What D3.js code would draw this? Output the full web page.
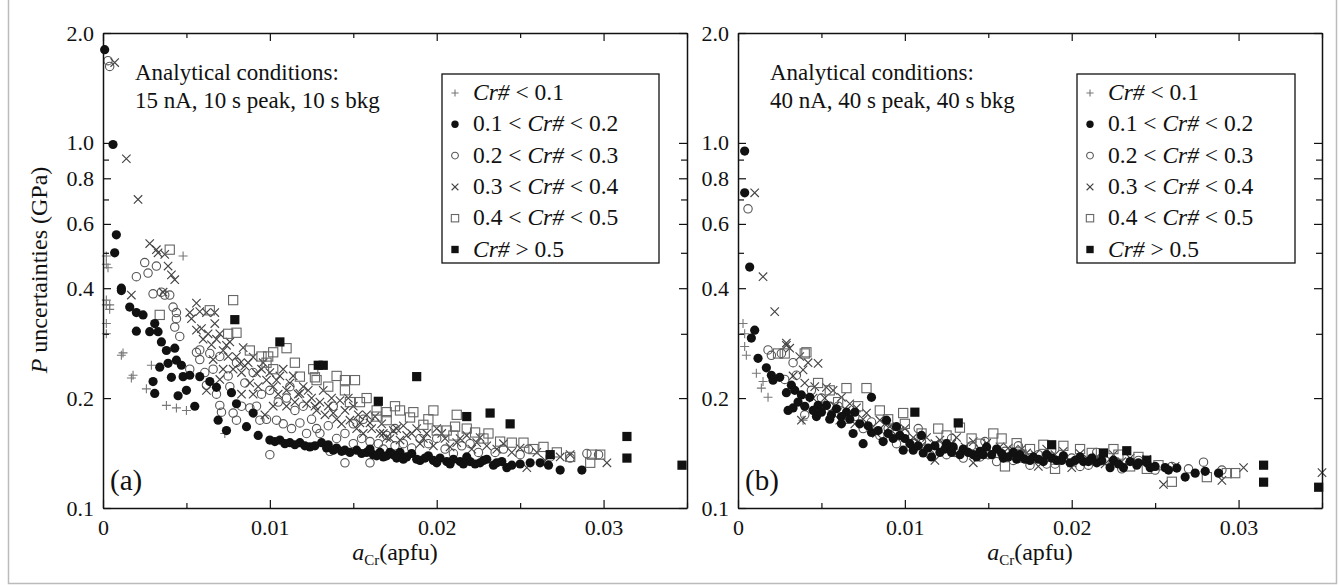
<!DOCTYPE html>
<html>
<head>
<meta charset="utf-8">
<script src="https://cdn.jsdelivr.net/npm/d3@7"></script>
<style>
  html, body { margin: 0; padding: 0; background: #fff; }
  svg { display: block; font-family: "Liberation Serif", "Times New Roman", serif; }
</style>
</head>
<body>
<svg id="chart" width="1340" height="585"></svg>
<script>
"use strict";

/* ── Axis ticks ── */
const xMajorTicks = [0, 0.01, 0.02, 0.03];
const xMinorTicks = [0.005, 0.015, 0.025, 0.035];
const yLabelTicks = [0.1, 0.2, 0.4, 0.6, 0.8, 1.0, 2.0];
const yMinorTicks = [0.3, 0.5, 0.7, 0.9];

/* ── Legend classes (Cr#) ── */
const classKeys   = ["plus", "dot", "ring", "cross", "box", "block"];
const classPrefix = ["", "0.1 < ", "0.2 < ", "0.3 < ", "0.4 < ", ""];
const classSuffix = [" < 0.1", " < 0.2", " < 0.3", " < 0.4", " < 0.5", " > 0.5"];

/* ── Panel (a): [aCr (apfu), P uncertainty (GPa)] ── */
const aPlus = [
  [0.0002,0.49],[0.0002,0.465],[0.0003,0.455],[0.0002,0.371],[0.0002,0.36],[0.0004,0.36],
  [0.0004,0.35],[0.0002,0.32],[0.0002,0.30],[0.0012,0.266],[0.0011,0.262],[0.0018,0.231],
  [0.0017,0.227],[0.0026,0.212],[0.0029,0.246],[0.0038,0.191],[0.0044,0.188],[0.0050,0.185],
  [0.0074,0.163],[0.0073,0.160],[0.0048,0.49]
];
const aDot = [
  [0.0001,1.80],[0.0006,0.99],[0.0008,0.56],[0.0007,0.50],[0.0011,0.40],[0.0011,0.394],
  [0.0016,0.355],[0.0020,0.343],[0.0024,0.338],[0.0031,0.32],[0.0020,0.305],[0.0028,0.304],
  [0.0033,0.304],[0.0035,0.285],[0.0038,0.27],[0.0043,0.274],[0.0044,0.254],[0.0039,0.249],
  [0.0034,0.243],[0.0041,0.228],[0.0047,0.246],[0.0048,0.229],[0.0052,0.231],[0.0058,0.229],
  [0.0030,0.222],[0.0031,0.206],[0.0045,0.203],[0.0064,0.222],[0.0068,0.214],[0.0077,0.207],
  [0.0069,0.174],[0.0074,0.163],[0.0080,0.193],[0.0086,0.167],[0.0090,0.182],[0.0100,0.1535],
  [0.0106,0.1535],[0.0112,0.151],[0.0118,0.151],[0.0124,0.147],[0.0131,0.151],[0.0145,0.144],
  [0.0152,0.144],[0.0158,0.142],[0.0166,0.142],[0.0172,0.142],[0.0178,0.142],[0.0174,0.140],
  [0.0182,0.138],[0.0190,0.135],[0.0198,0.135],[0.0206,0.134],[0.0214,0.134],[0.0220,0.134],
  [0.0226,0.133],[0.0234,0.131],[0.0239,0.134],[0.0245,0.131],[0.0256,0.133],[0.0262,0.133],
  [0.0267,0.131],[0.0274,0.127],[0.0287,0.127],[0.0140,0.146],[0.0162,0.140],[0.0168,0.138],
  [0.0185,0.141],[0.0195,0.139],[0.0202,0.137],[0.0210,0.136],[0.0218,0.138],[0.0230,0.136],
  [0.0160,0.145],[0.0135,0.149],[0.0093,0.158],[0.0050,0.210],[0.0055,0.190],
  [0.0103,0.152],[0.0109,0.150],[0.0115,0.149],[0.0121,0.148],[0.0127,0.148],[0.0134,0.146],
  [0.0138,0.144],[0.0143,0.143],[0.0148,0.142],[0.0155,0.141],[0.0164,0.139],[0.0170,0.139],
  [0.0176,0.137],[0.0180,0.136],[0.0188,0.136],[0.0193,0.137],[0.0200,0.133],[0.0208,0.132],
  [0.0216,0.132],[0.0223,0.132],[0.0228,0.135],[0.0236,0.133],[0.0242,0.129],[0.0250,0.132]
];
const aRing = [
  [0.0003,1.68],[0.0004,1.62],[0.0025,0.47],[0.0027,0.44],[0.0020,0.43],[0.0032,0.46],
  [0.0030,0.386],[0.0035,0.39],[0.0040,0.383],[0.0042,0.355],[0.0044,0.343],[0.0037,0.383],
  [0.0044,0.33],[0.0043,0.313],[0.0046,0.295],[0.0056,0.267],[0.0058,0.271],[0.0064,0.265],
  [0.0062,0.217],[0.0070,0.191],[0.0071,0.183],[0.0078,0.182],[0.0080,0.174],[0.0088,0.188],
  [0.0094,0.174],[0.0104,0.174],[0.0136,0.143],[0.0160,0.133],[0.0118,0.171],[0.0066,0.24],
  [0.0075,0.23],[0.0085,0.22],[0.0095,0.205],[0.0105,0.195],[0.0115,0.185],[0.0125,0.175],
  [0.0135,0.168],[0.0145,0.16],[0.0155,0.155],[0.0165,0.15],[0.0175,0.148],[0.0185,0.146],
  [0.0195,0.15],[0.0205,0.145],[0.0215,0.148],[0.0225,0.142],[0.0240,0.145],[0.0250,0.14],
  [0.0268,0.138],[0.0280,0.137],[0.0290,0.141],[0.0297,0.14],[0.0058,0.255],[0.0070,0.26],
  [0.0080,0.25],[0.0090,0.235],[0.0100,0.21],[0.0110,0.2],[0.0120,0.19],[0.0130,0.16],
  [0.0150,0.17],[0.0170,0.158],[0.0190,0.155],[0.0145,0.133],[0.0100,0.14],
  [0.0052,0.24],[0.0061,0.235],[0.0068,0.205],[0.0076,0.215],[0.0083,0.19],[0.0092,0.19],
  [0.0098,0.175],[0.0108,0.17],[0.0113,0.165],[0.0122,0.16],[0.0128,0.165],[0.0140,0.155],
  [0.0150,0.15],[0.0160,0.152],[0.0168,0.145],[0.0180,0.15],[0.0200,0.155],[0.0210,0.141],
  [0.0220,0.15],[0.0235,0.142],[0.0255,0.145],[0.0112,0.215],[0.0138,0.19],[0.0156,0.175],
  [0.0175,0.165]
];
const aCross = [
  [0.0007,1.66],[0.0014,0.905],[0.0021,0.70],[0.0028,0.53],[0.0032,0.51],[0.0033,0.50],
  [0.0037,0.495],[0.0039,0.46],[0.0041,0.435],[0.0043,0.422],[0.0036,0.39],[0.0017,0.383],
  [0.0056,0.364],[0.0058,0.345],[0.0052,0.343],[0.0067,0.343],[0.0062,0.343],[0.0067,0.32],
  [0.0056,0.307],[0.0074,0.279],[0.0084,0.275],[0.0082,0.249],[0.0090,0.259],[0.0092,0.234],
  [0.0098,0.224],[0.0104,0.224],[0.0110,0.21],[0.0118,0.206],[0.0122,0.193],[0.0128,0.185],
  [0.0138,0.182],[0.0142,0.197],[0.0148,0.174],[0.0154,0.171],[0.0160,0.171],[0.0168,0.16],
  [0.0174,0.163],[0.0062,0.21],[0.0166,0.16],[0.0170,0.156],[0.0178,0.1535],[0.0194,0.16],
  [0.0212,0.151],[0.0224,0.151],[0.0254,0.129],[0.0260,0.142],[0.0274,0.138],[0.0302,0.133],
  [0.0060,0.29],[0.0065,0.28],[0.0070,0.30],[0.0075,0.26],[0.0078,0.24],[0.0085,0.245],
  [0.0088,0.22],[0.0095,0.24],[0.0100,0.235],[0.0105,0.205],[0.0108,0.24],[0.0112,0.22],
  [0.0115,0.195],[0.0120,0.215],[0.0125,0.20],[0.0130,0.195],[0.0132,0.21],[0.0135,0.19],
  [0.0140,0.175],[0.0145,0.185],[0.0150,0.19],[0.0152,0.165],[0.0158,0.18],[0.0163,0.178],
  [0.0180,0.168],[0.0185,0.16],[0.0190,0.15],[0.0200,0.165],[0.0205,0.155],[0.0218,0.158],
  [0.0230,0.148],[0.0240,0.15],[0.0245,0.142],[0.0280,0.14],[0.0070,0.225],[0.0090,0.205],
  [0.0053,0.33],[0.0059,0.31],[0.0063,0.30],[0.0068,0.29],[0.0072,0.27],[0.0076,0.285],
  [0.0080,0.26],[0.0083,0.235],[0.0087,0.25],[0.0093,0.215],[0.0096,0.25],[0.0102,0.215],
  [0.0106,0.23],[0.0110,0.19],[0.0114,0.23],[0.0117,0.205],[0.0123,0.21],[0.0127,0.19],
  [0.0133,0.18],[0.0137,0.20],[0.0143,0.17],[0.0147,0.20],[0.0153,0.18],[0.0156,0.16],
  [0.0161,0.165],[0.0167,0.17],[0.0172,0.155],[0.0176,0.165],[0.0182,0.158],[0.0188,0.165],
  [0.0192,0.155],[0.0198,0.148],[0.0203,0.16],[0.0208,0.147],[0.0214,0.155],[0.0221,0.145],
  [0.0226,0.156],[0.0236,0.145],[0.0250,0.146],[0.0265,0.135],[0.0066,0.255],[0.0072,0.24],
  [0.0083,0.205],[0.0102,0.19],[0.0097,0.18]
];
const aBox = [
  [0.0040,0.51],[0.0078,0.371],[0.0064,0.348],[0.0034,0.338],[0.0075,0.30],[0.0080,0.302],
  [0.0110,0.274],[0.0102,0.267],[0.0099,0.26],[0.0128,0.224],[0.0126,0.24],[0.0098,0.25],
  [0.0118,0.229],[0.0127,0.228],[0.0145,0.224],[0.0151,0.224],[0.0145,0.21],[0.0148,0.195],
  [0.0154,0.195],[0.0164,0.185],[0.0170,0.183],[0.0178,0.185],[0.0186,0.183],[0.0164,0.178],
  [0.0170,0.174],[0.0192,0.169],[0.0212,0.18],[0.0200,0.163],[0.0206,0.163],[0.0210,0.158],
  [0.0184,0.177],[0.0211,0.167],[0.0223,0.161],[0.0231,0.16],[0.0245,0.151],[0.0252,0.151],
  [0.0264,0.147],[0.0280,0.138],[0.0293,0.14],[0.0298,0.14],[0.0292,0.133],[0.0102,0.24],
  [0.0088,0.27],[0.0095,0.26],[0.0115,0.25],[0.0135,0.215],[0.0140,0.23],[0.0158,0.20],
  [0.0175,0.19],[0.0195,0.175],[0.0218,0.165],[0.0228,0.155],[0.0238,0.152],[0.0258,0.145],
  [0.0272,0.142],[0.0198,0.185]
];
const aBlock = [
  [0.0079,0.328],[0.0106,0.285],[0.0129,0.246],[0.0132,0.246],[0.0165,0.196],[0.0188,0.229],
  [0.0218,0.178],[0.0232,0.182],[0.0244,0.170],[0.0268,0.140],[0.0314,0.157],[0.0314,0.137],
  [0.0347,0.131]
];

/* ── Panel (b): [aCr (apfu), P uncertainty (GPa)] ── */
const bPlus = [
  [0.0004,0.30],[0.0004,0.277],[0.0005,0.262],[0.0011,0.234],[0.0015,0.222],[0.0014,0.213],
  [0.0018,0.201],[0.0039,0.174],[0.0003,0.32]
];
const bDot = [
  [0.0004,0.95],[0.0004,0.73],[0.0007,0.457],[0.0010,0.307],[0.0008,0.292],[0.0012,0.257],
  [0.0017,0.242],[0.0020,0.231],[0.0021,0.224],[0.0025,0.228],[0.0032,0.217],[0.0029,0.207],
  [0.0034,0.21],[0.0038,0.204],[0.0043,0.201],[0.0033,0.188],[0.0030,0.185],[0.0047,0.178],
  [0.0048,0.191],[0.0053,0.191],[0.0059,0.187],[0.0065,0.183],[0.0070,0.183],[0.0069,0.16],
  [0.0075,0.15],[0.0080,0.161],[0.0087,0.152],[0.0089,0.174],[0.0095,0.167],[0.0099,0.144],
  [0.0105,0.144],[0.0111,0.1415],[0.0116,0.138],[0.0121,0.142],[0.0129,0.147],[0.0141,0.14],
  [0.0149,0.147],[0.0159,0.137],[0.0169,0.14],[0.0177,0.138],[0.0080,0.201],[0.0175,0.135],
  [0.0183,0.134],[0.0191,0.135],[0.0199,0.133],[0.0207,0.134],[0.0215,0.133],[0.0223,0.129],
  [0.0231,0.129],[0.0239,0.131],[0.0247,0.129],[0.0256,0.129],[0.0263,0.1286],[0.0268,0.1215],
  [0.0274,0.1246],[0.0288,0.1246],[0.0125,0.15],[0.0135,0.145],[0.0145,0.143],[0.0155,0.145],
  [0.0165,0.142],[0.0185,0.14],[0.0195,0.139],[0.0205,0.138],[0.0212,0.137],[0.0225,0.135],
  [0.0235,0.134],[0.0245,0.133],[0.0100,0.155],[0.0110,0.158],[0.0090,0.16],[0.0062,0.17],
  [0.0055,0.175],
  [0.0036,0.195],[0.0040,0.19],[0.0045,0.185],[0.0050,0.183],[0.0056,0.18],[0.0062,0.178],
  [0.0067,0.175],[0.0073,0.17],[0.0078,0.168],[0.0084,0.163],[0.0093,0.155],[0.0097,0.158],
  [0.0103,0.15],[0.0108,0.148],[0.0114,0.146],[0.0118,0.148],[0.0124,0.145],[0.0128,0.142],
  [0.0133,0.14],[0.0138,0.142],[0.0143,0.138],[0.0147,0.14],[0.0152,0.14],[0.0158,0.141],
  [0.0162,0.138],[0.0167,0.136],[0.0172,0.136],[0.0180,0.136],[0.0188,0.137],[0.0194,0.135],
  [0.0202,0.135],[0.0210,0.134],[0.0218,0.135],[0.0228,0.132],[0.0240,0.133],[0.0250,0.13],
  [0.0258,0.127],[0.0280,0.126]
];
const bRing = [
  [0.0006,0.66],[0.0018,0.271],[0.0020,0.262],[0.0026,0.265],[0.0033,0.25],[0.0035,0.231],
  [0.0040,0.18],[0.0050,0.20],[0.0060,0.19],[0.0070,0.178],[0.0080,0.172],[0.0090,0.165],
  [0.0100,0.16],[0.0110,0.152],[0.0120,0.148],[0.0130,0.142],[0.0140,0.148],[0.0150,0.14],
  [0.0160,0.143],[0.0170,0.137],[0.0180,0.14],[0.0190,0.132],[0.0200,0.137],[0.0210,0.131],
  [0.0220,0.135],[0.0240,0.135],[0.0260,0.13],[0.0279,0.1335],[0.0290,0.127],[0.0095,0.15],
  [0.0115,0.14],[0.0135,0.137],[0.0155,0.134],[0.0175,0.131],
  [0.0028,0.225],[0.0044,0.21],[0.0055,0.19],[0.0065,0.175],[0.0075,0.165],[0.0085,0.158],
  [0.0105,0.15],[0.0125,0.14],[0.0145,0.138],[0.0165,0.135],[0.0185,0.132],[0.0205,0.13],
  [0.0230,0.128],[0.0250,0.127],[0.0270,0.128],[0.0108,0.165],[0.0128,0.155],[0.0148,0.152],
  [0.0168,0.148],[0.0188,0.144],[0.0215,0.142]
];
const bCross = [
  [0.0010,0.73],[0.0015,0.43],[0.0022,0.345],[0.0029,0.279],[0.0029,0.283],[0.0031,0.274],
  [0.0037,0.26],[0.0042,0.25],[0.0048,0.249],[0.0039,0.239],[0.0053,0.214],[0.0057,0.21],
  [0.0062,0.201],[0.0067,0.193],[0.0071,0.188],[0.0077,0.182],[0.0085,0.174],[0.0091,0.167],
  [0.0097,0.163],[0.0105,0.156],[0.0113,0.156],[0.0121,0.1535],[0.0131,0.156],[0.0141,0.152],
  [0.0149,0.1505],[0.0157,0.147],[0.0165,0.144],[0.0173,0.1415],[0.0038,0.174],[0.0061,0.174],
  [0.0141,0.133],[0.0255,0.116],[0.0303,0.129],[0.0290,0.119],[0.0350,0.125],[0.0185,0.145],
  [0.0195,0.143],[0.0205,0.141],[0.0215,0.138],[0.0225,0.14],[0.0235,0.137],[0.0110,0.148],
  [0.0125,0.145],[0.0160,0.138],[0.0080,0.165],[0.0070,0.17],[0.0050,0.19],[0.0045,0.20],
  [0.0033,0.23],[0.0040,0.22],[0.0046,0.215],[0.0052,0.20],[0.0058,0.19],[0.0065,0.185],
  [0.0075,0.175],[0.0083,0.16],[0.0088,0.17],[0.0095,0.158],[0.0100,0.165],[0.0108,0.152],
  [0.0118,0.15],[0.0128,0.15],[0.0136,0.147],[0.0145,0.145],[0.0152,0.143],[0.0162,0.146],
  [0.0170,0.145],[0.0178,0.14],[0.0190,0.14],[0.0200,0.133],[0.0210,0.136],[0.0220,0.132],
  [0.0230,0.134],[0.0245,0.136],[0.0262,0.13],[0.0200,0.129],[0.0180,0.13],[0.0118,0.135]
];
const bBox = [
  [0.0028,0.265],[0.0040,0.265],[0.0024,0.265],[0.0041,0.267],[0.0077,0.213],[0.0065,0.213],
  [0.0099,0.182],[0.0153,0.16],[0.0167,0.1505],[0.0133,0.166],[0.0183,0.149],[0.0212,0.1415],
  [0.0228,0.14],[0.0252,0.131],[0.0260,0.118],[0.0281,0.1215],[0.0293,0.1246],[0.0298,0.1246],
  [0.0110,0.16],[0.0120,0.165],[0.0140,0.155],[0.0175,0.145],[0.0195,0.148],[0.0205,0.145],
  [0.0240,0.138],[0.0085,0.185],[0.0060,0.195],[0.0160,0.13],[0.0190,0.128],
  [0.0048,0.22],[0.0055,0.21],[0.0072,0.19],[0.0090,0.175],[0.0100,0.17],[0.0125,0.158],
  [0.0145,0.15],[0.0158,0.155],[0.0170,0.14],[0.0185,0.138],[0.0215,0.135],[0.0225,0.145],
  [0.0235,0.13],[0.0245,0.128]
];
const bBlock = [
  [0.0106,0.183],[0.0132,0.171],[0.0188,0.149],[0.0219,0.1415],[0.0233,0.1435],[0.0245,0.1352],
  [0.0315,0.131],[0.0315,0.1177],[0.0348,0.114]
];

/* ── Marker styles ── */
function drawMark(sel, kind, s) {
  if (kind === "plus") {
    sel.append("path").attr("d", `M${-4.5*s},0H${4.5*s}M0,${-4.5*s}V${4.5*s}`)
      .attr("stroke", "#777").attr("stroke-width", 1.1).attr("fill", "none");
  } else if (kind === "cross") {
    sel.append("path").attr("d", `M${-4.2*s},${-4.2*s}L${4.2*s},${4.2*s}M${-4.2*s},${4.2*s}L${4.2*s},${-4.2*s}`)
      .attr("stroke", "#444").attr("stroke-width", 1.15).attr("fill", "none");
  } else if (kind === "ring") {
    sel.append("circle").attr("r", 4.2 * s)
      .attr("stroke", "#555").attr("stroke-width", 1.1).attr("fill", "none");
  } else if (kind === "dot") {
    sel.append("circle").attr("r", 4.6 * s).attr("fill", "#111");
  } else if (kind === "box") {
    sel.append("rect").attr("x", -4.6*s).attr("y", -4.6*s).attr("width", 9.2*s).attr("height", 9.2*s)
      .attr("stroke", "#666").attr("stroke-width", 1.1).attr("fill", "none");
  } else if (kind === "block") {
    sel.append("rect").attr("x", -4.6*s).attr("y", -4.6*s).attr("width", 9.2*s).attr("height", 9.2*s)
      .attr("fill", "#111");
  }
}

const svg = d3.select("#chart");

/* ── Figure frame ── */
svg.append("path")
  .attr("d", "M8.5,0V583.5H1336.5V0")
  .attr("fill", "none").attr("stroke", "#bbb").attr("stroke-width", 1.5);

const y = d3.scaleLog().domain([0.1, 2.0]).range([508, 33]);

const panels = [
  { left: 103, tag: "(a)", cond: ["Analytical conditions:", "15 nA, 10 s peak, 10 s bkg"],
    legendX: 442, legendW: 217,
    series: { plus: aPlus, ring: aRing, cross: aCross, box: aBox, dot: aDot, block: aBlock } },
  { left: 738, tag: "(b)", cond: ["Analytical conditions:", "40 nA, 40 s peak, 40 s bkg"],
    legendX: 1077, legendW: 218,
    series: { plus: bPlus, ring: bRing, cross: bCross, box: bBox, dot: bDot, block: bBlock } }
];

function styleAxis(g, fontSize) {
  g.attr("font-family", null).attr("font-size", fontSize);
  g.select(".domain").attr("stroke", "#111").attr("stroke-width", 1.5);
  g.selectAll(".tick line").attr("stroke", "#111").attr("stroke-width", 1.2);
  g.selectAll(".tick text").attr("fill", "#111");
}

panels.forEach(p => {
  const x = d3.scaleLinear().domain([0, 0.035]).range([p.left, p.left + 584]);
  const g = svg.append("g");
  const [top, bottom] = [33, 508];

  /* ── Points ── */
  const marks = g.append("g");
  ["plus", "ring", "cross", "box", "dot", "block"].forEach(kind => {
    marks.selectAll(null)
      .data(p.series[kind])
      .join("g")
      .attr("transform", d => `translate(${x(d[0])},${y(d[1])})`)
      .each(function () { drawMark(d3.select(this), kind, 1); });
  });

  /* ── Axes ── */
  g.append("g").attr("transform", `translate(0,${bottom})`)
    .call(d3.axisBottom(x).tickValues(xMajorTicks)
      .tickFormat(d => d === 0 ? "0" : d3.format(".2f")(d))
      .tickSize(-8).tickSizeOuter(0).tickPadding(11))
    .call(a => styleAxis(a, 22));
  g.append("g").attr("transform", `translate(0,${bottom})`)
    .call(d3.axisBottom(x).tickValues(xMinorTicks).tickFormat("").tickSize(-5).tickSizeOuter(0))
    .call(a => { styleAxis(a, 22); a.select(".domain").remove(); });

  g.append("g").attr("transform", `translate(0,${top})`)
    .call(d3.axisTop(x).tickValues(xMajorTicks).tickFormat("").tickSize(-8).tickSizeOuter(0))
    .call(a => styleAxis(a, 22));
  g.append("g").attr("transform", `translate(0,${top})`)
    .call(d3.axisTop(x).tickValues(xMinorTicks).tickFormat("").tickSize(-5).tickSizeOuter(0))
    .call(a => { styleAxis(a, 22); a.select(".domain").remove(); });

  g.append("g").attr("transform", `translate(${p.left},0)`)
    .call(d3.axisLeft(y).tickValues(yLabelTicks).tickFormat(d3.format(".1f"))
      .tickSize(-8).tickSizeOuter(0).tickPadding(9))
    .call(a => styleAxis(a, 22));
  g.append("g").attr("transform", `translate(${p.left},0)`)
    .call(d3.axisLeft(y).tickValues(yMinorTicks).tickFormat("").tickSize(-6).tickSizeOuter(0))
    .call(a => { styleAxis(a, 22); a.select(".domain").remove(); });

  g.append("g").attr("transform", `translate(${p.left + 584},0)`)
    .call(d3.axisRight(y).tickValues(yLabelTicks).tickFormat("").tickSize(-8).tickSizeOuter(0))
    .call(a => styleAxis(a, 22));
  g.append("g").attr("transform", `translate(${p.left + 584},0)`)
    .call(d3.axisRight(y).tickValues(yMinorTicks).tickFormat("").tickSize(-6).tickSizeOuter(0))
    .call(a => { styleAxis(a, 22); a.select(".domain").remove(); });

  /* ── Condition text ── */
  p.cond.forEach((line, i) => {
    g.append("text").attr("x", p.left + 32).attr("y", 80 + i * 28)
      .attr("font-size", 23).attr("fill", "#111").text(line);
  });

  /* ── Panel tag ── */
  g.append("text").attr("x", p.left + 7).attr("y", 490)
    .attr("font-size", 29).attr("fill", "#111").text(p.tag);

  /* ── x label ── */
  const xl = g.append("text").attr("x", p.left + 292).attr("y", 560)
    .attr("text-anchor", "middle").attr("font-size", 24).attr("fill", "#111");
  xl.append("tspan").attr("font-style", "italic").text("a");
  xl.append("tspan").attr("font-size", 15).attr("dy", 5).text("Cr");
  xl.append("tspan").attr("dy", -5).text("(apfu)");

  /* ── Legend ── */
  const lg = g.append("g").attr("transform", `translate(${p.legendX},74)`);
  lg.append("rect").attr("width", p.legendW).attr("height", 189)
    .attr("fill", "#fff").attr("stroke", "#111").attr("stroke-width", 1.3);
  classKeys.forEach((k, i) => {
    const base = 26 + i * 31.3;
    const m = lg.append("g").attr("transform", `translate(13,${base - 7})`);
    drawMark(m, k, 0.8);
    const t = lg.append("text").attr("x", 31).attr("y", base)
      .attr("font-size", 23.5).attr("fill", "#111").style("white-space", "pre");
    if (classPrefix[i]) t.append("tspan").text(classPrefix[i]);
    t.append("tspan").attr("font-style", "italic").text("Cr#");
    t.append("tspan").text(classSuffix[i]);
  });
});

/* ── y label (shared, left of panel a) ── */
const yl = svg.append("text")
  .attr("transform", "translate(47,270) rotate(-90)")
  .attr("text-anchor", "middle").attr("font-size", 24).attr("fill", "#111");
yl.append("tspan").attr("font-style", "italic").text("P");
yl.append("tspan").text(" uncertainties (GPa)");
</script>
</body>
</html>
